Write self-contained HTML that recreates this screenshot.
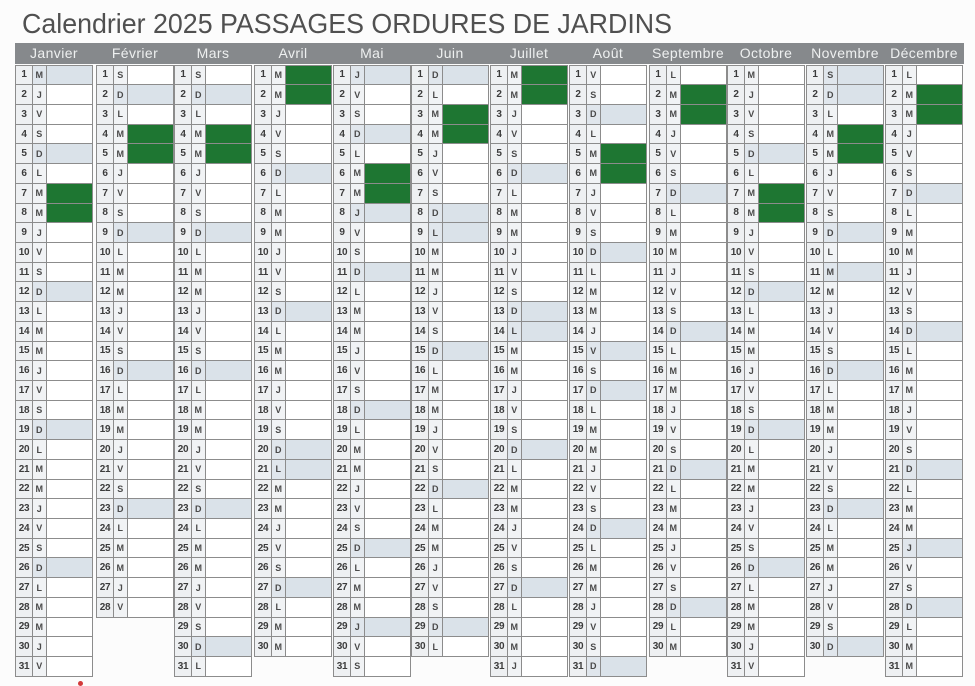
<!DOCTYPE html>
<html><head><meta charset="utf-8">
<style>
html,body{margin:0;padding:0;background:#fcfcfc;}
body{width:975px;height:686px;position:relative;overflow:hidden;font-family:"Liberation Sans",sans-serif;}
.hd{position:absolute;left:15px;top:42.5px;width:949px;height:21.5px;background:#86898c;}
.mn{position:absolute;top:44px;width:78px;text-align:center;color:#eef0f0;font-size:14px;letter-spacing:0.4px;line-height:18px;}
.m{position:absolute;top:64.5px;width:78px;display:grid;grid-template-columns:17px 13.5px 1fr;grid-auto-rows:19.72px;border-left:1.5px solid #8c8c8c;border-top:1.5px solid #8c8c8c;box-sizing:border-box;}
.m i,.m b,.m u{border-right:1.5px solid #8c8c8c;border-bottom:1.5px solid #8c8c8c;box-sizing:border-box;display:flex;align-items:center;justify-content:center;font-style:normal;text-decoration:none;overflow:hidden;}
.m i{background:#eef0f2;font-weight:bold;font-size:10px;color:#3c3c3c;letter-spacing:-0.3px;}
.m b{background:#f1f3f5;font-weight:bold;font-size:9px;color:#4a4a4a;}
.m u{background:#fff;}
.m b.s{background:#e0e6ec;}
.m u.s{background:#dae2e9;}
.m u.g{background:#1e7632;}
</style></head><body>
<svg width="975" height="42" style="position:absolute;left:0;top:0"><text x="22" y="33" textLength="650" lengthAdjust="spacingAndGlyphs" font-family="Liberation Sans, sans-serif" font-size="28" fill="#505050">Calendrier 2025 PASSAGES ORDURES DE JARDINS</text></svg>
<div class="hd"></div>
<div class="mn" style="left:15px">Janvier</div>
<div class="mn" style="left:96px">Février</div>
<div class="mn" style="left:174px">Mars</div>
<div class="mn" style="left:254px">Avril</div>
<div class="mn" style="left:333px">Mai</div>
<div class="mn" style="left:411px">Juin</div>
<div class="mn" style="left:490px">Juillet</div>
<div class="mn" style="left:569px">Août</div>
<div class="mn" style="left:649px">Septembre</div>
<div class="mn" style="left:727px">Octobre</div>
<div class="mn" style="left:806px">Novembre</div>
<div class="mn" style="left:885px">Décembre</div>

<div class="m" style="left:15px">
<i>1</i><b class="s">M</b><u class="s"></u><i>2</i><b>J</b><u></u><i>3</i><b>V</b><u></u><i>4</i><b>S</b><u></u><i>5</i><b class="s">D</b><u class="s"></u><i>6</i><b>L</b><u></u><i>7</i><b>M</b><u class="g"></u><i>8</i><b>M</b><u class="g"></u><i>9</i><b>J</b><u></u><i>10</i><b>V</b><u></u><i>11</i><b>S</b><u></u><i>12</i><b class="s">D</b><u class="s"></u><i>13</i><b>L</b><u></u><i>14</i><b>M</b><u></u><i>15</i><b>M</b><u></u><i>16</i><b>J</b><u></u><i>17</i><b>V</b><u></u><i>18</i><b>S</b><u></u><i>19</i><b class="s">D</b><u class="s"></u><i>20</i><b>L</b><u></u><i>21</i><b>M</b><u></u><i>22</i><b>M</b><u></u><i>23</i><b>J</b><u></u><i>24</i><b>V</b><u></u><i>25</i><b>S</b><u></u><i>26</i><b class="s">D</b><u class="s"></u><i>27</i><b>L</b><u></u><i>28</i><b>M</b><u></u><i>29</i><b>M</b><u></u><i>30</i><b>J</b><u></u><i>31</i><b>V</b><u></u>
</div>

<div class="m" style="left:96px">
<i>1</i><b>S</b><u></u><i>2</i><b class="s">D</b><u class="s"></u><i>3</i><b>L</b><u></u><i>4</i><b>M</b><u class="g"></u><i>5</i><b>M</b><u class="g"></u><i>6</i><b>J</b><u></u><i>7</i><b>V</b><u></u><i>8</i><b>S</b><u></u><i>9</i><b class="s">D</b><u class="s"></u><i>10</i><b>L</b><u></u><i>11</i><b>M</b><u></u><i>12</i><b>M</b><u></u><i>13</i><b>J</b><u></u><i>14</i><b>V</b><u></u><i>15</i><b>S</b><u></u><i>16</i><b class="s">D</b><u class="s"></u><i>17</i><b>L</b><u></u><i>18</i><b>M</b><u></u><i>19</i><b>M</b><u></u><i>20</i><b>J</b><u></u><i>21</i><b>V</b><u></u><i>22</i><b>S</b><u></u><i>23</i><b class="s">D</b><u class="s"></u><i>24</i><b>L</b><u></u><i>25</i><b>M</b><u></u><i>26</i><b>M</b><u></u><i>27</i><b>J</b><u></u><i>28</i><b>V</b><u></u>
</div>

<div class="m" style="left:174px">
<i>1</i><b>S</b><u></u><i>2</i><b class="s">D</b><u class="s"></u><i>3</i><b>L</b><u></u><i>4</i><b>M</b><u class="g"></u><i>5</i><b>M</b><u class="g"></u><i>6</i><b>J</b><u></u><i>7</i><b>V</b><u></u><i>8</i><b>S</b><u></u><i>9</i><b class="s">D</b><u class="s"></u><i>10</i><b>L</b><u></u><i>11</i><b>M</b><u></u><i>12</i><b>M</b><u></u><i>13</i><b>J</b><u></u><i>14</i><b>V</b><u></u><i>15</i><b>S</b><u></u><i>16</i><b class="s">D</b><u class="s"></u><i>17</i><b>L</b><u></u><i>18</i><b>M</b><u></u><i>19</i><b>M</b><u></u><i>20</i><b>J</b><u></u><i>21</i><b>V</b><u></u><i>22</i><b>S</b><u></u><i>23</i><b class="s">D</b><u class="s"></u><i>24</i><b>L</b><u></u><i>25</i><b>M</b><u></u><i>26</i><b>M</b><u></u><i>27</i><b>J</b><u></u><i>28</i><b>V</b><u></u><i>29</i><b>S</b><u></u><i>30</i><b class="s">D</b><u class="s"></u><i>31</i><b>L</b><u></u>
</div>

<div class="m" style="left:254px">
<i>1</i><b>M</b><u class="g"></u><i>2</i><b>M</b><u class="g"></u><i>3</i><b>J</b><u></u><i>4</i><b>V</b><u></u><i>5</i><b>S</b><u></u><i>6</i><b class="s">D</b><u class="s"></u><i>7</i><b>L</b><u></u><i>8</i><b>M</b><u></u><i>9</i><b>M</b><u></u><i>10</i><b>J</b><u></u><i>11</i><b>V</b><u></u><i>12</i><b>S</b><u></u><i>13</i><b class="s">D</b><u class="s"></u><i>14</i><b>L</b><u></u><i>15</i><b>M</b><u></u><i>16</i><b>M</b><u></u><i>17</i><b>J</b><u></u><i>18</i><b>V</b><u></u><i>19</i><b>S</b><u></u><i>20</i><b class="s">D</b><u class="s"></u><i>21</i><b class="s">L</b><u class="s"></u><i>22</i><b>M</b><u></u><i>23</i><b>M</b><u></u><i>24</i><b>J</b><u></u><i>25</i><b>V</b><u></u><i>26</i><b>S</b><u></u><i>27</i><b class="s">D</b><u class="s"></u><i>28</i><b>L</b><u></u><i>29</i><b>M</b><u></u><i>30</i><b>M</b><u></u>
</div>

<div class="m" style="left:333px">
<i>1</i><b class="s">J</b><u class="s"></u><i>2</i><b>V</b><u></u><i>3</i><b>S</b><u></u><i>4</i><b class="s">D</b><u class="s"></u><i>5</i><b>L</b><u></u><i>6</i><b>M</b><u class="g"></u><i>7</i><b>M</b><u class="g"></u><i>8</i><b class="s">J</b><u class="s"></u><i>9</i><b>V</b><u></u><i>10</i><b>S</b><u></u><i>11</i><b class="s">D</b><u class="s"></u><i>12</i><b>L</b><u></u><i>13</i><b>M</b><u></u><i>14</i><b>M</b><u></u><i>15</i><b>J</b><u></u><i>16</i><b>V</b><u></u><i>17</i><b>S</b><u></u><i>18</i><b class="s">D</b><u class="s"></u><i>19</i><b>L</b><u></u><i>20</i><b>M</b><u></u><i>21</i><b>M</b><u></u><i>22</i><b>J</b><u></u><i>23</i><b>V</b><u></u><i>24</i><b>S</b><u></u><i>25</i><b class="s">D</b><u class="s"></u><i>26</i><b>L</b><u></u><i>27</i><b>M</b><u></u><i>28</i><b>M</b><u></u><i>29</i><b class="s">J</b><u class="s"></u><i>30</i><b>V</b><u></u><i>31</i><b>S</b><u></u>
</div>

<div class="m" style="left:411px">
<i>1</i><b class="s">D</b><u class="s"></u><i>2</i><b>L</b><u></u><i>3</i><b>M</b><u class="g"></u><i>4</i><b>M</b><u class="g"></u><i>5</i><b>J</b><u></u><i>6</i><b>V</b><u></u><i>7</i><b>S</b><u></u><i>8</i><b class="s">D</b><u class="s"></u><i>9</i><b class="s">L</b><u class="s"></u><i>10</i><b>M</b><u></u><i>11</i><b>M</b><u></u><i>12</i><b>J</b><u></u><i>13</i><b>V</b><u></u><i>14</i><b>S</b><u></u><i>15</i><b class="s">D</b><u class="s"></u><i>16</i><b>L</b><u></u><i>17</i><b>M</b><u></u><i>18</i><b>M</b><u></u><i>19</i><b>J</b><u></u><i>20</i><b>V</b><u></u><i>21</i><b>S</b><u></u><i>22</i><b class="s">D</b><u class="s"></u><i>23</i><b>L</b><u></u><i>24</i><b>M</b><u></u><i>25</i><b>M</b><u></u><i>26</i><b>J</b><u></u><i>27</i><b>V</b><u></u><i>28</i><b>S</b><u></u><i>29</i><b class="s">D</b><u class="s"></u><i>30</i><b>L</b><u></u>
</div>

<div class="m" style="left:490px">
<i>1</i><b>M</b><u class="g"></u><i>2</i><b>M</b><u class="g"></u><i>3</i><b>J</b><u></u><i>4</i><b>V</b><u></u><i>5</i><b>S</b><u></u><i>6</i><b class="s">D</b><u class="s"></u><i>7</i><b>L</b><u></u><i>8</i><b>M</b><u></u><i>9</i><b>M</b><u></u><i>10</i><b>J</b><u></u><i>11</i><b>V</b><u></u><i>12</i><b>S</b><u></u><i>13</i><b class="s">D</b><u class="s"></u><i>14</i><b class="s">L</b><u class="s"></u><i>15</i><b>M</b><u></u><i>16</i><b>M</b><u></u><i>17</i><b>J</b><u></u><i>18</i><b>V</b><u></u><i>19</i><b>S</b><u></u><i>20</i><b class="s">D</b><u class="s"></u><i>21</i><b>L</b><u></u><i>22</i><b>M</b><u></u><i>23</i><b>M</b><u></u><i>24</i><b>J</b><u></u><i>25</i><b>V</b><u></u><i>26</i><b>S</b><u></u><i>27</i><b class="s">D</b><u class="s"></u><i>28</i><b>L</b><u></u><i>29</i><b>M</b><u></u><i>30</i><b>M</b><u></u><i>31</i><b>J</b><u></u>
</div>

<div class="m" style="left:569px">
<i>1</i><b>V</b><u></u><i>2</i><b>S</b><u></u><i>3</i><b class="s">D</b><u class="s"></u><i>4</i><b>L</b><u></u><i>5</i><b>M</b><u class="g"></u><i>6</i><b>M</b><u class="g"></u><i>7</i><b>J</b><u></u><i>8</i><b>V</b><u></u><i>9</i><b>S</b><u></u><i>10</i><b class="s">D</b><u class="s"></u><i>11</i><b>L</b><u></u><i>12</i><b>M</b><u></u><i>13</i><b>M</b><u></u><i>14</i><b>J</b><u></u><i>15</i><b class="s">V</b><u class="s"></u><i>16</i><b>S</b><u></u><i>17</i><b class="s">D</b><u class="s"></u><i>18</i><b>L</b><u></u><i>19</i><b>M</b><u></u><i>20</i><b>M</b><u></u><i>21</i><b>J</b><u></u><i>22</i><b>V</b><u></u><i>23</i><b>S</b><u></u><i>24</i><b class="s">D</b><u class="s"></u><i>25</i><b>L</b><u></u><i>26</i><b>M</b><u></u><i>27</i><b>M</b><u></u><i>28</i><b>J</b><u></u><i>29</i><b>V</b><u></u><i>30</i><b>S</b><u></u><i>31</i><b class="s">D</b><u class="s"></u>
</div>

<div class="m" style="left:649px">
<i>1</i><b>L</b><u></u><i>2</i><b>M</b><u class="g"></u><i>3</i><b>M</b><u class="g"></u><i>4</i><b>J</b><u></u><i>5</i><b>V</b><u></u><i>6</i><b>S</b><u></u><i>7</i><b class="s">D</b><u class="s"></u><i>8</i><b>L</b><u></u><i>9</i><b>M</b><u></u><i>10</i><b>M</b><u></u><i>11</i><b>J</b><u></u><i>12</i><b>V</b><u></u><i>13</i><b>S</b><u></u><i>14</i><b class="s">D</b><u class="s"></u><i>15</i><b>L</b><u></u><i>16</i><b>M</b><u></u><i>17</i><b>M</b><u></u><i>18</i><b>J</b><u></u><i>19</i><b>V</b><u></u><i>20</i><b>S</b><u></u><i>21</i><b class="s">D</b><u class="s"></u><i>22</i><b>L</b><u></u><i>23</i><b>M</b><u></u><i>24</i><b>M</b><u></u><i>25</i><b>J</b><u></u><i>26</i><b>V</b><u></u><i>27</i><b>S</b><u></u><i>28</i><b class="s">D</b><u class="s"></u><i>29</i><b>L</b><u></u><i>30</i><b>M</b><u></u>
</div>

<div class="m" style="left:727px">
<i>1</i><b>M</b><u></u><i>2</i><b>J</b><u></u><i>3</i><b>V</b><u></u><i>4</i><b>S</b><u></u><i>5</i><b class="s">D</b><u class="s"></u><i>6</i><b>L</b><u></u><i>7</i><b>M</b><u class="g"></u><i>8</i><b>M</b><u class="g"></u><i>9</i><b>J</b><u></u><i>10</i><b>V</b><u></u><i>11</i><b>S</b><u></u><i>12</i><b class="s">D</b><u class="s"></u><i>13</i><b>L</b><u></u><i>14</i><b>M</b><u></u><i>15</i><b>M</b><u></u><i>16</i><b>J</b><u></u><i>17</i><b>V</b><u></u><i>18</i><b>S</b><u></u><i>19</i><b class="s">D</b><u class="s"></u><i>20</i><b>L</b><u></u><i>21</i><b>M</b><u></u><i>22</i><b>M</b><u></u><i>23</i><b>J</b><u></u><i>24</i><b>V</b><u></u><i>25</i><b>S</b><u></u><i>26</i><b class="s">D</b><u class="s"></u><i>27</i><b>L</b><u></u><i>28</i><b>M</b><u></u><i>29</i><b>M</b><u></u><i>30</i><b>J</b><u></u><i>31</i><b>V</b><u></u>
</div>

<div class="m" style="left:806px">
<i>1</i><b class="s">S</b><u class="s"></u><i>2</i><b class="s">D</b><u class="s"></u><i>3</i><b>L</b><u></u><i>4</i><b>M</b><u class="g"></u><i>5</i><b>M</b><u class="g"></u><i>6</i><b>J</b><u></u><i>7</i><b>V</b><u></u><i>8</i><b>S</b><u></u><i>9</i><b class="s">D</b><u class="s"></u><i>10</i><b>L</b><u></u><i>11</i><b class="s">M</b><u class="s"></u><i>12</i><b>M</b><u></u><i>13</i><b>J</b><u></u><i>14</i><b>V</b><u></u><i>15</i><b>S</b><u></u><i>16</i><b class="s">D</b><u class="s"></u><i>17</i><b>L</b><u></u><i>18</i><b>M</b><u></u><i>19</i><b>M</b><u></u><i>20</i><b>J</b><u></u><i>21</i><b>V</b><u></u><i>22</i><b>S</b><u></u><i>23</i><b class="s">D</b><u class="s"></u><i>24</i><b>L</b><u></u><i>25</i><b>M</b><u></u><i>26</i><b>M</b><u></u><i>27</i><b>J</b><u></u><i>28</i><b>V</b><u></u><i>29</i><b>S</b><u></u><i>30</i><b class="s">D</b><u class="s"></u>
</div>

<div class="m" style="left:885px">
<i>1</i><b>L</b><u></u><i>2</i><b>M</b><u class="g"></u><i>3</i><b>M</b><u class="g"></u><i>4</i><b>J</b><u></u><i>5</i><b>V</b><u></u><i>6</i><b>S</b><u></u><i>7</i><b class="s">D</b><u class="s"></u><i>8</i><b>L</b><u></u><i>9</i><b>M</b><u></u><i>10</i><b>M</b><u></u><i>11</i><b>J</b><u></u><i>12</i><b>V</b><u></u><i>13</i><b>S</b><u></u><i>14</i><b class="s">D</b><u class="s"></u><i>15</i><b>L</b><u></u><i>16</i><b>M</b><u></u><i>17</i><b>M</b><u></u><i>18</i><b>J</b><u></u><i>19</i><b>V</b><u></u><i>20</i><b>S</b><u></u><i>21</i><b class="s">D</b><u class="s"></u><i>22</i><b>L</b><u></u><i>23</i><b>M</b><u></u><i>24</i><b>M</b><u></u><i>25</i><b class="s">J</b><u class="s"></u><i>26</i><b>V</b><u></u><i>27</i><b>S</b><u></u><i>28</i><b class="s">D</b><u class="s"></u><i>29</i><b>L</b><u></u><i>30</i><b>M</b><u></u><i>31</i><b>M</b><u></u>
</div>

<div style="position:absolute;left:78px;top:681px;width:5px;height:5px;border-radius:50%;background:#d23a3a;"></div>
</body></html>
